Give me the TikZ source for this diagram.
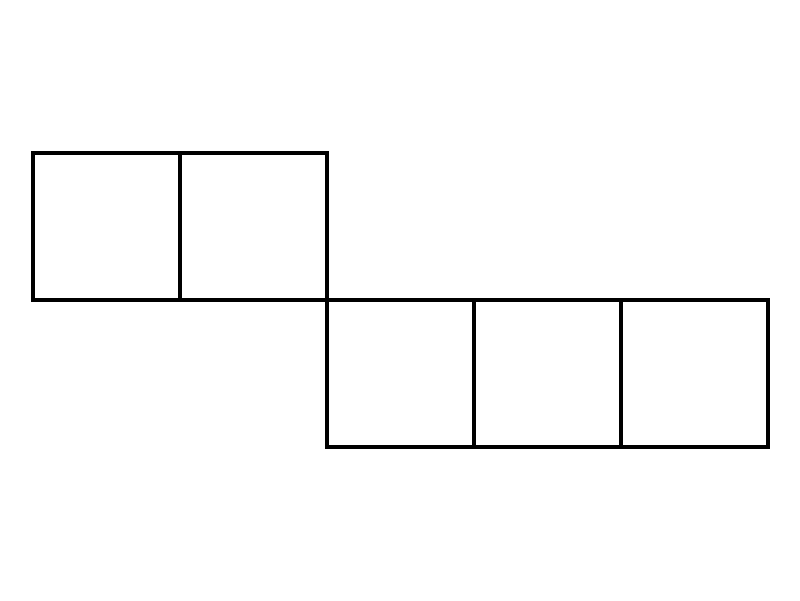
\documentclass[tikz,border=0pt]{standalone}
\usetikzlibrary{positioning}

\begin{document}
\begin{tikzpicture}[cell/.style={draw, line width=1.15pt, minimum size=1.47cm,
    inner sep=0pt, outer sep=0pt, anchor=north west},
    node distance=0pt
]
  \useasboundingbox (0,0) rectangle (8,6);
  \node[cell] (a1) at (0.33,4.47) {};
  \node[cell, right=of a1] (a2) {};
  \node[cell, anchor=north west] (b1) at (a2.south east) {};
  \node[cell, right=of b1] (b2) {};
  \node[cell, right=of b2] (b3) {};
\end{tikzpicture}
\end{document}
